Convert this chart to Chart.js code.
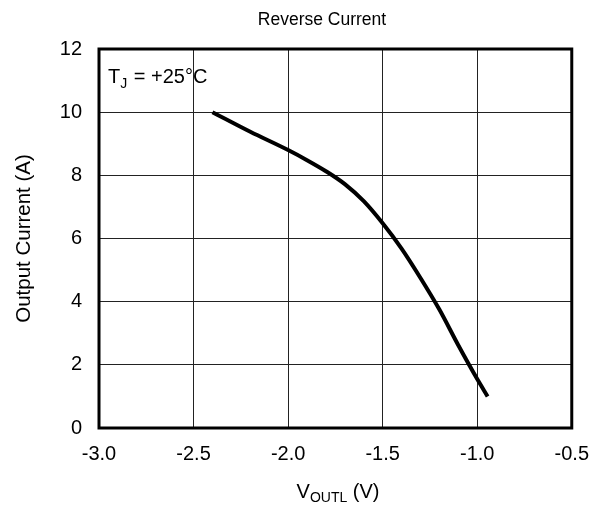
<!DOCTYPE html>
<html>
<head>
<meta charset="utf-8">
<script src="https://cdn.jsdelivr.net/npm/chart.js@4.4.1/dist/chart.umd.min.js"></script>
<style>
  html, body { margin: 0; padding: 0; background: #fff; }
  #wrap { width: 603px; height: 507px; }
</style>
</head>
<body>
<div id="wrap"><canvas id="myChart"></canvas></div>
<script>
// V_OUTL (V) vs output current (A)
const voltage = [-2.40, -2.20, -2.00, -1.90, -1.80, -1.70, -1.60, -1.50, -1.40, -1.30, -1.20, -1.10, -1.00, -0.945];
const current = [10.0, 9.38, 8.80, 8.48, 8.13, 7.72, 7.18, 6.48, 5.68, 4.75, 3.75, 2.62, 1.55, 1.00];
const xTicks = [-3.0, -2.5, -2.0, -1.5, -1.0, -0.5];
const yTicks = [0, 2, 4, 6, 8, 10, 12];

const FONT = 'Liberation Sans, Arial, sans-serif';

const textPlugin = {
  id: 'texts',
  afterDraw(chart) {
    const ctx = chart.ctx;
    const a = chart.chartArea;
    ctx.save();
    // frame
    ctx.strokeStyle = '#000';
    ctx.lineWidth = 3;
    ctx.strokeRect(a.left, a.top, a.right - a.left, a.bottom - a.top);

    ctx.fillStyle = '#000';
    ctx.textBaseline = 'alphabetic';
    // title
    ctx.font = '17.5px ' + FONT;
    ctx.textAlign = 'center';
    ctx.fillText('Reverse Current', 322, 25);

    // x axis title with subscript
    const main1 = 'V', sub = 'OUTL', main2 = ' (V)';
    const fBig = '20px ' + FONT, fSmall = '14px ' + FONT;
    ctx.font = fBig; const w1 = ctx.measureText(main1).width; const w3 = ctx.measureText(main2).width;
    ctx.font = fSmall; const w2 = ctx.measureText(sub).width;
    let x0 = 338 - (w1 + w2 + w3) / 2;
    const by = 498;
    ctx.textAlign = 'left';
    ctx.font = fBig; ctx.fillText(main1, x0, by);
    ctx.font = fSmall; ctx.fillText(sub, x0 + w1, by + 4);
    ctx.font = fBig; ctx.fillText(main2, x0 + w1 + w2, by);

    // T_J annotation
    const fA = '20px ' + FONT, fAs = '14px ' + FONT;
    let ax = 108; const ay = 83;
    ctx.font = fA; ctx.fillText('T', ax, ay); ax += ctx.measureText('T').width;
    ctx.font = fAs; ctx.fillText('J', ax, ay + 5); ax += ctx.measureText('J').width + 1;
    ctx.font = fA; ctx.fillText(' = +25\u00B0C', ax, ay);

    // y axis title
    ctx.translate(30, (a.top + a.bottom) / 2);
    ctx.rotate(-Math.PI / 2);
    ctx.textAlign = 'center';
    ctx.font = '20.5px ' + FONT;
    ctx.fillText('Output Current (A)', 0, 0);
    ctx.restore();
  }
};

const data = {
  datasets: [{
    label: 'Reverse Current',
    data: voltage.map((v, i) => ({ x: v, y: current[i] })),
    borderColor: '#000',
    borderWidth: 4,
    pointRadius: 0,
    fill: false,
    cubicInterpolationMode: 'monotone'
  }]
};

const config = {
  type: 'line',
  data: data,
  options: {
    responsive: true,
    maintainAspectRatio: false,
    animation: false,
    layout: { padding: { top: 49, right: 29, left: 0, bottom: 0 } },
    plugins: { legend: { display: false }, title: { display: false }, tooltip: { enabled: false } },
    scales: {
      x: {
        type: 'linear',
        min: -3.0,
        max: -0.5,
        afterBuildTicks: s => { s.ticks = xTicks.map(v => ({ value: v })); },
        afterFit: s => { s.height = 79; },
        grid: { color: '#222', lineWidth: 1, drawTicks: false },
        border: { display: false },
        ticks: {
          color: '#000',
          padding: 14,
          font: { family: FONT, size: 20 },
          maxRotation: 0,
          callback: v => v.toFixed(1)
        }
      },
      y: {
        type: 'linear',
        min: 0,
        max: 12,
        afterBuildTicks: s => { s.ticks = yTicks.map(v => ({ value: v })); },
        afterFit: s => { s.width = 99; },
        grid: { color: '#222', lineWidth: 1, drawTicks: false },
        border: { display: false },
        ticks: {
          color: '#000',
          padding: 17,
          font: { family: FONT, size: 20 },
          callback: v => String(v)
        }
      }
    }
  },
  plugins: [textPlugin]
};

const myChart = new Chart(document.getElementById('myChart'), config);
</script>
</body>
</html>
